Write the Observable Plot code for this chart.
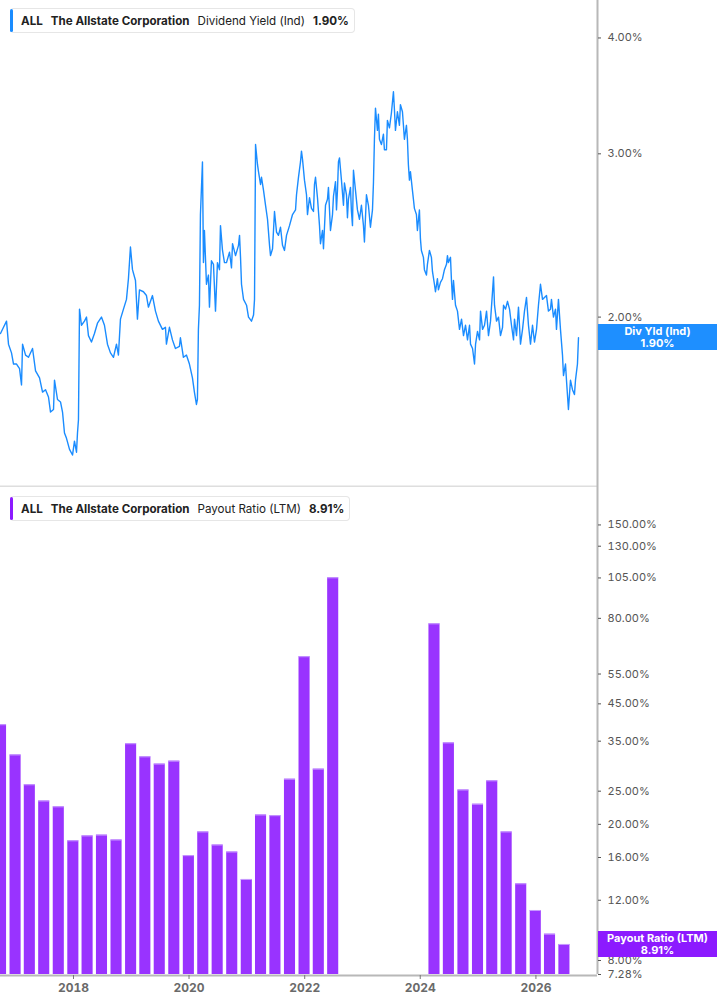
<!DOCTYPE html>
<html>
<head>
<meta charset="utf-8">
<script src="https://cdn.jsdelivr.net/npm/d3@7"></script>
<script src="https://cdn.jsdelivr.net/npm/@observablehq/plot@0.6"></script>
<style>
  html, body { margin: 0; padding: 0; background: #fff; }
  #wrap { position: relative; width: 717px; height: 1005px; overflow: hidden; font-family: Inter, "Noto Sans", sans-serif; }
  #wrap svg { display: block; }
  .legend { position: absolute; left: 10px; height: 25px; box-sizing: border-box; border: 1px solid #e6e6e6; border-left: none; border-radius: 4px; background: #fff;
            display: flex; align-items: center; font-size: 11.6px; color: #222; white-space: nowrap; padding: 0 5px 0 11px; }
  .legend .bar { position: absolute; left: 0; top: 0; bottom: 0; width: 3px; border-radius: 2px; }
  .legend b { font-weight: 700; }
  .legend .sp { display: inline-block; width: 8px; }
  .badge { position: absolute; left: 598px; width: 119px; height: 26px; color: #fff; font-size: 11px; font-weight: 700; line-height: 12px;
           display: flex; flex-direction: column; align-items: center; justify-content: center; }
</style>
</head>
<body>
<div id="wrap"></div>
<script>
// ---------- DATA ----------
const ticker = "ALL";
const company = "The Allstate Corporation";
const yieldLabel = "Dividend Yield (Ind)";
const yieldShort = "Div Yld (Ind)";
const yieldLast = 1.90;
const payoutLabel = "Payout Ratio (LTM)";
const payoutLast = 8.91;

// x domain as decimal years
const xDomainYears = [2016.737, 2027.066];
const xTickYears = [2018, 2020, 2022, 2024, 2026];

// Dividend yield (indicated), % — dates as decimal years
const yieldDates = [
2016.737,2016.789,2016.841,2016.875,2016.927,2016.962,2017.014,2017.066,2017.100,2017.118,
2017.170,2017.221,2017.291,2017.343,2017.412,2017.464,2017.516,2017.567,2017.602,2017.654,
2017.671,2017.723,2017.775,2017.810,2017.844,2017.879,2017.931,2017.983,2018.017,2018.052,
2018.069,2018.086,2018.104,2018.138,2018.190,2018.225,2018.259,2018.311,2018.363,2018.415,
2018.484,2018.536,2018.588,2018.640,2018.692,2018.744,2018.778,2018.813,2018.865,2018.917,
2018.951,2018.986,2019.021,2019.073,2019.107,2019.142,2019.211,2019.263,2019.297,2019.367,
2019.419,2019.470,2019.540,2019.592,2019.609,2019.661,2019.713,2019.765,2019.834,2019.851,
2019.903,2019.955,2020.007,2020.059,2020.093,2020.128,2020.145,2020.162,2020.180,2020.197,
2020.232,2020.249,2020.266,2020.301,2020.335,2020.353,2020.387,2020.422,2020.457,2020.491,
2020.526,2020.543,2020.578,2020.612,2020.647,2020.699,2020.733,2020.751,2020.803,2020.854,
2020.872,2020.889,2020.906,2020.941,2020.993,2021.027,2021.079,2021.114,2021.131,2021.149,
2021.183,2021.200,2021.235,2021.252,2021.287,2021.322,2021.356,2021.391,2021.408,2021.443,
2021.477,2021.512,2021.546,2021.581,2021.616,2021.650,2021.685,2021.737,2021.789,2021.841,
2021.858,2021.892,2021.927,2021.944,2021.962,2021.996,2022.031,2022.048,2022.083,2022.117,
2022.152,2022.169,2022.187,2022.221,2022.256,2022.273,2022.308,2022.325,2022.360,2022.394,
2022.411,2022.446,2022.481,2022.498,2022.533,2022.550,2022.567,2022.584,2022.602,2022.636,
2022.671,2022.688,2022.723,2022.740,2022.757,2022.792,2022.809,2022.827,2022.844,2022.879,
2022.913,2022.948,2022.982,2023.017,2023.034,2023.069,2023.103,2023.138,2023.173,2023.190,
2023.207,2023.225,2023.259,2023.276,2023.294,2023.328,2023.363,2023.380,2023.415,2023.432,
2023.467,2023.501,2023.536,2023.553,2023.571,2023.605,2023.640,2023.657,2023.692,2023.709,
2023.726,2023.761,2023.778,2023.795,2023.813,2023.830,2023.865,2023.882,2023.899,2023.934,
2023.951,2023.986,2024.003,2024.020,2024.055,2024.072,2024.107,2024.124,2024.159,2024.193,
2024.211,2024.245,2024.263,2024.297,2024.314,2024.349,2024.384,2024.418,2024.453,2024.470,
2024.487,2024.522,2024.539,2024.557,2024.574,2024.609,2024.643,2024.678,2024.713,2024.747,
2024.782,2024.816,2024.851,2024.868,2024.903,2024.937,2024.955,2024.989,2025.024,2025.041,
2025.076,2025.110,2025.145,2025.179,2025.214,2025.266,2025.283,2025.318,2025.352,2025.387,
2025.422,2025.439,2025.474,2025.508,2025.543,2025.577,2025.612,2025.629,2025.664,2025.698,
2025.733,2025.768,2025.802,2025.837,2025.871,2025.906,2025.941,2025.975,2026.010,2026.044,
2026.079,2026.114,2026.148,2026.183,2026.217,2026.252,2026.269,2026.304,2026.339,2026.356,
2026.390,2026.425,2026.460,2026.477,2026.512,2026.529,2026.563,2026.581,2026.598,2026.633,
2026.667,2026.685,2026.719,2026.737
];
const yieldValues = [
1.92,1.95,1.98,1.87,1.83,1.78,1.78,1.76,1.69,1.87,
1.82,1.81,1.85,1.75,1.72,1.66,1.67,1.64,1.58,1.59,
1.71,1.63,1.62,1.58,1.50,1.48,1.44,1.42,1.47,1.43,
1.50,1.55,2.04,1.96,1.98,2.00,1.91,1.88,1.92,1.97,
2.00,1.96,1.87,1.83,1.81,1.87,1.82,1.99,2.04,2.09,
2.20,2.38,2.25,2.19,1.99,2.14,2.13,2.11,2.05,2.11,
2.03,1.98,1.94,1.95,1.87,1.95,1.89,1.85,1.86,1.90,
1.81,1.82,1.78,1.72,1.66,1.61,1.63,1.94,2.06,2.58,
2.94,2.29,2.48,2.17,2.22,2.05,2.30,2.28,2.03,2.29,
2.25,2.51,2.36,2.29,2.29,2.35,2.26,2.40,2.33,2.39,
2.45,2.32,2.17,2.09,2.06,2.00,1.98,2.01,2.09,3.07,
2.92,2.87,2.78,2.83,2.74,2.64,2.55,2.39,2.33,2.37,
2.60,2.47,2.45,2.50,2.39,2.36,2.45,2.51,2.58,2.61,
2.71,2.83,2.94,3.02,2.96,2.81,2.71,2.58,2.69,2.62,
2.60,2.78,2.83,2.69,2.51,2.40,2.48,2.37,2.64,2.68,
2.76,2.48,2.58,2.70,2.80,2.61,2.74,2.94,2.97,2.81,
2.64,2.79,2.71,2.56,2.68,2.76,2.60,2.51,2.88,2.74,
2.61,2.55,2.64,2.51,2.41,2.71,2.64,2.50,2.61,2.79,
3.11,3.36,3.18,3.31,3.11,3.07,3.15,3.03,3.03,3.26,
3.20,3.32,3.50,3.35,3.18,3.33,3.22,3.39,3.33,3.22,
3.11,3.22,3.11,2.92,2.81,2.87,2.74,2.68,2.62,2.58,
2.48,2.61,2.43,2.36,2.32,2.25,2.22,2.28,2.36,2.32,
2.24,2.17,2.13,2.20,2.14,2.18,2.20,2.25,2.28,2.33,
2.29,2.32,2.19,2.09,2.19,2.06,2.03,1.94,1.99,1.91,
1.96,1.89,1.96,1.87,1.85,1.78,1.87,1.93,1.89,2.03,
1.94,1.96,2.03,1.91,1.98,2.21,2.06,1.98,2.00,1.91,
1.95,2.06,2.04,2.08,2.04,1.96,1.89,1.99,1.91,2.05,
1.87,1.94,2.03,2.10,1.96,1.87,1.96,1.88,1.94,2.06,
2.17,2.09,2.10,2.11,2.03,2.04,2.09,2.00,2.04,1.94,
2.09,1.94,1.82,1.73,1.78,1.71,1.59,1.65,1.71,1.67,
1.65,1.71,1.78,1.90
];
const yieldTicks = [2, 3, 4];
const yieldDomain = [1.31, 4.39];

// Payout ratio (LTM), % — quarter-end dates
const payoutDates = [
"2016-09-30","2016-12-31","2017-03-31","2017-06-30","2017-09-30","2017-12-31",
"2018-03-31","2018-06-30","2018-09-30","2018-12-31","2019-03-31","2019-06-30",
"2019-09-30","2019-12-31","2020-03-31","2020-06-30","2020-09-30","2020-12-31",
"2021-03-31","2021-06-30","2021-09-30","2021-12-31","2022-03-31","2022-06-30",
"2024-03-31","2024-06-30","2024-09-30","2024-12-31","2025-03-31","2025-06-30",
"2025-09-30","2025-12-31","2026-03-31","2026-06-30"
];
const payoutValues = [
39.1,31.9,26.1,23.4,22.5,17.9,
18.5,18.6,18.0,34.4,31.5,30.0,
30.6,16.2,19.0,17.4,16.6,13.8,
21.3,21.2,27.1,61.8,29.0,105.1,
77.1,34.6,25.2,22.9,26.8,19.0,
13.4,11.2,9.55,8.91
];
const payoutTicks = [7.28, 8, 12, 16, 20, 25, 35, 45, 55, 80, 105, 130, 150];
const payoutDomain = [7.28, 193];

// ---------- BUILD ----------
function fromDecimalYear(t) {
  const y = Math.floor(t);
  const a = Date.UTC(y, 0, 1), b = Date.UTC(y + 1, 0, 1);
  return new Date(a + (t - y) * (b - a));
}
const xDomain = xDomainYears.map(fromDecimalYear);
const xTicks = xTickYears.map(y => new Date(Date.UTC(y, 0, 1)));
const yieldData = yieldDates.map((t, i) => ({date: fromDecimalYear(t), value: yieldValues[i]}));
const payoutData = payoutDates.map((d, i) => {
  const date = new Date(d + "T00:00:00Z");
  return {date, x1: d3.utcDay.offset(date, -35), x2: d3.utcDay.offset(date, 35), value: payoutValues[i]};
});
const pct = d => d.toFixed(2) + "%";

const W = 717, H1 = 487, H2 = 518, MR = 120;
const fontStyle = {fontFamily: "Inter, 'Noto Sans', sans-serif", fontSize: "11px", background: "transparent"};

const topChart = Plot.plot({
  width: W, height: H1, marginLeft: 0, marginRight: MR, marginTop: 0, marginBottom: 0,
  style: fontStyle,
  x: {type: "utc", domain: xDomain, axis: null},
  y: {type: "log", domain: yieldDomain, axis: null},
  marks: [
    Plot.ruleY([yieldDomain[0]], {stroke: "#dedede", strokeWidth: 2, dy: -1}),
    Plot.line(yieldData, {x: "date", y: "value", stroke: "#1a8cff", strokeWidth: 1.4}),
    Plot.ruleX([xDomain[1]], {stroke: "#b8b8b8", strokeWidth: 2}),
    Plot.axisY(yieldTicks, {anchor: "right", label: null, tickFormat: pct, tickSize: 3, tickPadding: 7, stroke: "#555", fill: "#555", fontSize: 11})
  ]
});

const bottomChart = Plot.plot({
  width: W, height: H2, marginLeft: 0, marginRight: MR, marginTop: 0, marginBottom: 31,
  style: fontStyle,
  x: {type: "utc", domain: xDomain},
  y: {type: "log", domain: payoutDomain, axis: null},
  marks: [
    Plot.rectY(payoutData, {x1: "x1", x2: "x2", y1: () => payoutDomain[0], y2: "value", fill: "#9933ff"}),
    Plot.ruleY(payoutData, {x1: "x1", x2: "x2", y: "value", stroke: "#c79bff", strokeWidth: 1}),
    Plot.ruleY([payoutDomain[0]], {stroke: "#b8b8b8", strokeWidth: 2, dy: 1}),
    Plot.ruleX([xDomain[1]], {stroke: "#b8b8b8", strokeWidth: 2}),
    Plot.axisY(payoutTicks, {anchor: "right", label: null, tickFormat: pct, tickSize: 3, tickPadding: 7, stroke: "#555", fill: "#555", fontSize: 11}),
    Plot.axisX(xTicks, {label: null, tickFormat: d3.utcFormat("%Y"), tickSize: 4, tickPadding: 4, stroke: "#777", fill: "#6a6a6a", fontSize: 12, fontWeight: "bold", dy: 1})
  ]
});

const wrap = document.getElementById("wrap");
wrap.appendChild(topChart);
wrap.appendChild(bottomChart);

function legend(topPx, color, label, value) {
  const el = document.createElement("div");
  el.className = "legend";
  el.style.top = topPx + "px";
  el.innerHTML = `<span class="bar" style="background:${color}"></span><b>${ticker}</b><span class="sp"></span><b>${company}</b><span class="sp"></span><span>${label}</span><span class="sp"></span><b>${value}</b>`;
  wrap.appendChild(el);
}
legend(8, "#1a8cff", yieldLabel, pct(yieldLast));
legend(H1 + 9, "#8c1aff", payoutLabel, pct(payoutLast));

function badge(cy, color, label, value) {
  const el = document.createElement("div");
  el.className = "badge";
  el.style.top = (cy - 13) + "px";
  el.style.background = color;
  el.innerHTML = `<span>${label}</span><span>${value}</span>`;
  wrap.appendChild(el);
}
badge(topChart.scale("y").apply(yieldLast), "#1e8fff", yieldShort, pct(yieldLast));
badge(H1 + bottomChart.scale("y").apply(payoutLast), "#8c1aff", payoutLabel, pct(payoutLast));
</script>
</body>
</html>
